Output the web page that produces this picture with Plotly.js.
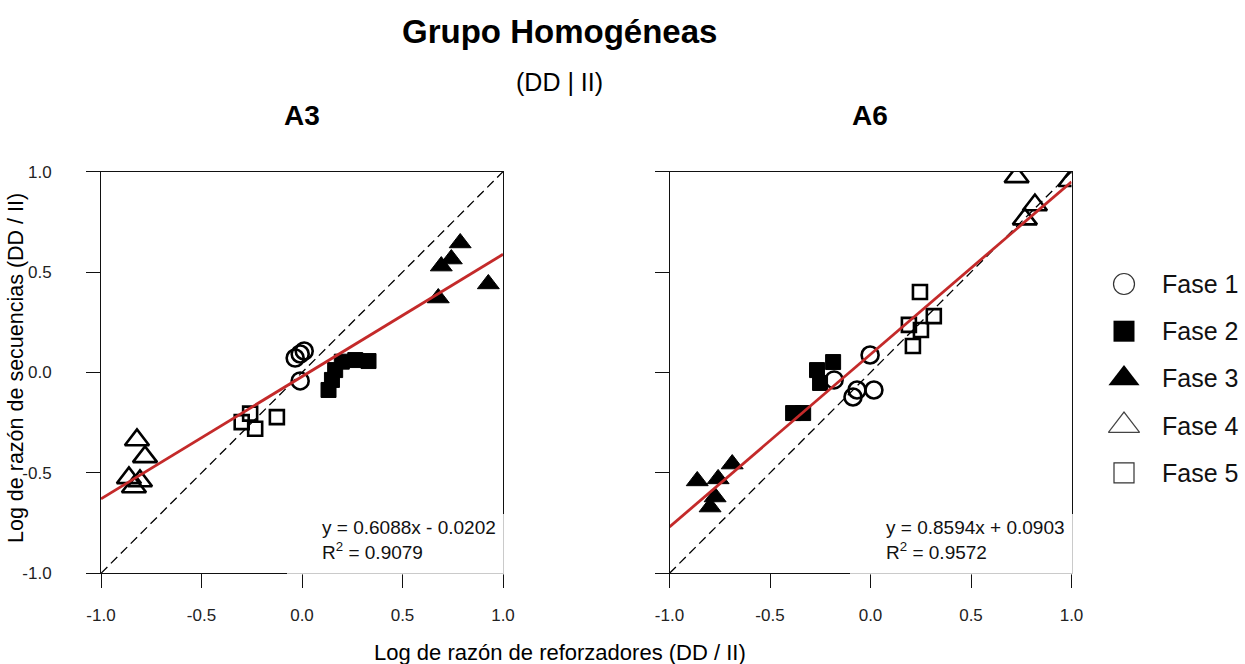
<!DOCTYPE html>
<html><head><meta charset="utf-8">
<script src="https://cdn.plot.ly/plotly-3.0.1.min.js"></script>
<style>html,body{margin:0;padding:0;background:#fff}#chart{width:1245px;height:664px}</style>
</head><body><div id="chart"></div>
<script>
// ---- data ----
const panelNames = ['A3', 'A6'];
const phaseNames = ['Fase 1', 'Fase 2', 'Fase 3', 'Fase 4', 'Fase 5'];

const a3_f1_x = [-0.034, -0.009, 0.011, -0.009];
const a3_f1_y = [0.072, 0.092, 0.107, -0.042];
const a3_f2_x = [0.132, 0.149, 0.165, 0.198, 0.265, 0.331];
const a3_f2_y = [-0.087, -0.037, 0.012, 0.054, 0.062, 0.057];
const a3_f3_x = [0.787, 0.743, 0.693, 0.927, 0.678];
const a3_f3_y = [0.645, 0.565, 0.530, 0.441, 0.371];
const a3_f4_x = [-0.821, -0.781, -0.861, -0.806, -0.836];
const a3_f4_y = [-0.336, -0.420, -0.525, -0.540, -0.570];
const a3_f5_x = [-0.300, -0.258, -0.233, -0.125];
const a3_f5_y = [-0.247, -0.205, -0.280, -0.222];

const a6_f1_x = [-0.002, -0.181, -0.067, -0.087, 0.017];
const a6_f1_y = [0.087, -0.037, -0.087, -0.122, -0.087];
const a6_f2_x = [-0.266, -0.186, -0.251, -0.385, -0.335];
const a6_f2_y = [0.012, 0.052, -0.052, -0.202, -0.202];
const a6_f3_x = [-0.862, -0.758, -0.688, -0.773, -0.798];
const a6_f3_y = [-0.540, -0.530, -0.456, -0.620, -0.670];
const a6_f4_x = [0.727, 0.818, 0.768, 0.995];
const a6_f4_y = [0.974, 0.834, 0.764, 0.955];
const a6_f5_x = [0.246, 0.191, 0.251, 0.315, 0.211];
const a6_f5_y = [0.401, 0.237, 0.212, 0.281, 0.132];

const fitSlope = [0.6088, 0.8594];
const fitIntercept = [-0.0202, 0.0903];
const fitR2 = [0.9079, 0.9572];

const tickVals = [-1, -0.5, 0, 0.5, 1];
const tickText = ['-1.0', '-0.5', '0.0', '0.5', '1.0'];

// ---- layout helpers ----
const W = 1245, H = 664;
const FONT = 'Liberation Sans, Arial, Helvetica, sans-serif';
const px = x => x / W;
const py = y => 1 - y / H;

const panelSeries = [
  [[a3_f1_x, a3_f1_y], [a3_f2_x, a3_f2_y], [a3_f3_x, a3_f3_y], [a3_f4_x, a3_f4_y], [a3_f5_x, a3_f5_y]],
  [[a6_f1_x, a6_f1_y], [a6_f2_x, a6_f2_y], [a6_f3_x, a6_f3_y], [a6_f4_x, a6_f4_y], [a6_f5_x, a6_f5_y]]
];

const markerStyles = [
  {symbol: 'circle-open', size: 17, color: '#000', line: {width: 2.6, color: '#000'}},
  {symbol: 'square', size: 15, color: '#000', line: {width: 1, color: '#000'}},
  {symbol: 'triangle-up', size: 19, color: '#000', line: {width: 1, color: '#000'}},
  {symbol: 'triangle-up-open', size: 21, color: '#000', line: {width: 2.6, color: '#000'}},
  {symbol: 'square-open', size: 14, color: '#000', line: {width: 2.6, color: '#000'}}
];
const legendStyles = [
  {symbol: 'circle-open', size: 21, color: '#333', line: {width: 1.2}},
  {symbol: 'square', size: 21, color: '#000', line: {width: 0}},
  {symbol: 'triangle-up', size: 27, color: '#000', line: {width: 0}},
  {symbol: 'triangle-up-open', size: 27, color: '#444', line: {width: 1.2}},
  {symbol: 'square-open', size: 20, color: '#333', line: {width: 1.2}}
];

// panel pixel boxes
const panelBox = [
  {x0: 101, x1: 503, cover: [287, 506], eqX: 320, titleX: 302},
  {x0: 669.5, x1: 1071.5, cover: [850, 1075], eqX: 884, titleX: 870}
];
const plotTop = 171.7, plotBottom = 573.3;

const data = [];
const layout = {
  width: W, height: H,
  margin: {l: 0, r: 0, t: 0, b: 0},
  paper_bgcolor: '#fff', plot_bgcolor: 'rgba(0,0,0,0)',
  showlegend: false,
  font: {family: FONT, color: '#000'},
  annotations: [], shapes: []
};

panelNames.forEach((name, p) => {
  const xa = p === 0 ? 'x' : 'x2', ya = p === 0 ? 'y' : 'y2';
  const xk = p === 0 ? 'xaxis' : 'xaxis2', yk = p === 0 ? 'yaxis' : 'yaxis2';
  panelSeries[p].forEach((s, k) => {
    data.push({type: 'scatter', mode: 'markers', x: s[0], y: s[1], xaxis: xa, yaxis: ya,
      name: phaseNames[k], marker: markerStyles[k], cliponaxis: true, hoverinfo: 'skip'});
  });
  // identity line
  data.push({type: 'scatter', mode: 'lines', x: [-1, 1], y: [-1, 1], xaxis: xa, yaxis: ya,
    line: {color: '#000', width: 1.3, dash: '9px,5px'}, hoverinfo: 'skip'});
  // regression line
  data.push({type: 'scatter', mode: 'lines', x: [-1, 1],
    y: [-1, 1].map(v => fitSlope[p] * v + fitIntercept[p]), xaxis: xa, yaxis: ya,
    line: {color: '#c42a2a', width: 2.8}, hoverinfo: 'skip'});

  const b = panelBox[p];
  layout[xk] = {
    domain: [px(b.x0), px(b.x1)], range: [-1, 1], anchor: ya,
    showline: true, mirror: true, linecolor: '#111', linewidth: 1,
    ticks: 'outside', ticklen: 14, tickwidth: 1, tickcolor: '#111',
    tickvals: tickVals, ticktext: tickText, tickfont: {size: 17, color: '#222', family: FONT},
    ticklabelstandoff: 12, showgrid: false, zeroline: false, fixedrange: true
  };
  layout[yk] = {
    domain: [py(plotBottom), py(plotTop)], range: [-1, 1], anchor: xa,
    showline: true, mirror: true, linecolor: '#111', linewidth: 1,
    ticks: 'outside', ticklen: 14, tickwidth: 1, tickcolor: '#111',
    tickvals: tickVals, ticktext: tickText, tickfont: {size: 17, color: '#222', family: FONT},
    showticklabels: p === 0, ticklabelstandoff: 31,
    showgrid: false, zeroline: false, fixedrange: true
  };
  // white box behind the equation
  layout.shapes.push({type: 'rect', xref: 'paper', yref: 'paper', layer: 'above',
    x0: px(b.cover[0]), x1: px(b.cover[1]), y0: py(574.5), y1: py(514),
    fillcolor: 'rgba(255,255,255,0.78)', line: {width: 0}});
  layout.annotations.push({xref: 'paper', yref: 'paper', x: px(b.eqX), y: py(540),
    xanchor: 'left', yanchor: 'middle', align: 'left', showarrow: false,
    text: 'y = ' + fitSlope[p].toFixed(4) + 'x ' + (fitIntercept[p] < 0 ? '- ' : '+ ') +
      Math.abs(fitIntercept[p]).toFixed(4) + '<br>R<sup>2</sup> = ' + fitR2[p].toFixed(4),
    font: {size: 19, color: '#111', family: FONT}});
  layout.annotations.push({xref: 'paper', yref: 'paper', x: px(b.titleX), y: py(116),
    xanchor: 'center', yanchor: 'middle', showarrow: false, text: '<b>' + name + '</b>',
    font: {size: 28, color: '#000', family: FONT}});
});

// titles
layout.annotations.push({xref: 'paper', yref: 'paper', x: px(559), y: py(31), xanchor: 'center', yanchor: 'middle',
  showarrow: false, text: '<b>Grupo Homogéneas</b>', font: {size: 33, color: '#000', family: FONT}});
layout.annotations.push({xref: 'paper', yref: 'paper', x: px(559), y: py(82), xanchor: 'center', yanchor: 'middle',
  showarrow: false, text: '(DD | II)', font: {size: 25, color: '#000', family: FONT}});
layout.annotations.push({xref: 'paper', yref: 'paper', x: px(560), y: py(652), xanchor: 'center', yanchor: 'middle',
  showarrow: false, text: 'Log de razón de reforzadores (DD / II)', font: {size: 22, color: '#000', family: FONT}});
layout.annotations.push({xref: 'paper', yref: 'paper', x: px(16), y: py(368), xanchor: 'center', yanchor: 'middle',
  showarrow: false, textangle: -90, text: 'Log de razón de secuencias (DD / II)', font: {size: 21.5, color: '#000', family: FONT}});

// manual legend on an overlay pixel axis
layout.xaxis3 = {domain: [0, 1], range: [0, W], visible: false, anchor: 'y3', fixedrange: true};
layout.yaxis3 = {domain: [0, 1], range: [H, 0], visible: false, anchor: 'x3', fixedrange: true};
const legY0 = 284, legStep = 47.2, legMarkerX = 1124, legTextX = 1160;
phaseNames.forEach((nm, k) => {
  data.push({type: 'scatter', mode: 'markers', x: [legMarkerX], y: [legY0 + k * legStep],
    xaxis: 'x3', yaxis: 'y3', marker: legendStyles[k], cliponaxis: false, hoverinfo: 'skip'});
  layout.annotations.push({xref: 'paper', yref: 'paper', x: px(legTextX), y: py(legY0 + k * legStep),
    xanchor: 'left', yanchor: 'middle', showarrow: false, text: nm,
    font: {size: 25, color: '#111', family: FONT}});
});

Plotly.newPlot('chart', data, layout, {staticPlot: true, displayModeBar: false});
</script>
</body></html>
